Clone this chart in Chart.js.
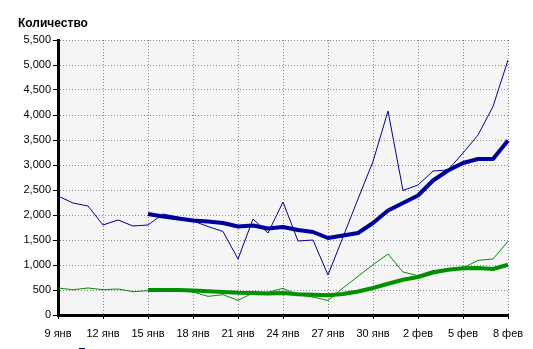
<!DOCTYPE html>
<html><head><meta charset="utf-8">
<script src="https://cdn.jsdelivr.net/npm/chart.js@4/dist/chart.umd.min.js"></script>
<style>html,body{margin:0;padding:0;background:#fff;overflow:hidden}</style>
</head><body>
<canvas id="c" width="533" height="349" style="display:block;width:533px;height:349px"></canvas>
<script>
const days = ['9 янв','10 янв','11 янв','12 янв','13 янв','14 янв','15 янв','16 янв','17 янв','18 янв','19 янв','20 янв','21 янв','22 янв','23 янв','24 янв','25 янв','26 янв','27 янв','28 янв','29 янв','30 янв','31 янв','1 фев','2 фев','3 фев','4 фев','5 фев','6 фев','7 фев','8 фев'];
const blueDaily = [2380,2240,2180,1800,1900,1780,1800,2020,1960,1880,1770,1670,1120,1920,1640,2260,1480,1500,800,1560,2320,3070,4080,2490,2600,2880,2900,3240,3600,4170,5100];
const blueAvg = [null,null,null,null,null,null,2020,1970,1930,1890,1870,1840,1770,1790,1730,1760,1700,1660,1540,1590,1640,1840,2090,2240,2390,2690,2890,3040,3120,3120,3490];
const greenDaily = [540,506,540,506,520,466,486,493,486,460,373,406,293,440,453,533,400,360,290,540,773,1006,1220,860,786,890,906,940,1093,1120,1473];
const greenAvg = [null,null,null,null,null,null,500,500,500,490,475,460,445,440,430,440,415,405,395,420,470,540,625,705,760,850,905,935,940,920,1005];
const yTicks = [0,500,1000,1500,2000,2500,3000,3500,4000,4500,5000,5500];
const titleText = 'Количество';
const legendText = 'Продажи';

const BLUE = '#00009c', GREEN = '#009000', FONT = "'Liberation Sans', Arial, sans-serif";

const bg = {
  id: 'bg',
  beforeDraw(chart) {
    const {ctx, chartArea: a} = chart;
    ctx.save(); ctx.fillStyle = '#f5f5f5';
    ctx.fillRect(a.left, a.top, a.right - a.left, a.bottom - a.top);
    ctx.restore();
  },
  afterDraw(chart) {
    const ctx = chart.ctx;
    ctx.save();
    ctx.fillStyle = '#000';
    ctx.font = 'bold 12px ' + FONT;
    ctx.textBaseline = 'alphabetic';
    ctx.fillText(titleText, 18, 27);
    ctx.fillStyle = BLUE;
    ctx.font = '11px ' + FONT;
    ctx.fillText(legendText, 78, 356);
    ctx.restore();
  }
};

const every3 = (on, off) => c => (c.index % 3 === 0 ? on : off);

new Chart(document.getElementById('c'), {
  type: 'line',
  data: {
    labels: days,
    datasets: [
      {data: blueAvg, borderColor: BLUE, borderWidth: 4, order: 1},
      {data: greenAvg, borderColor: GREEN, borderWidth: 4, order: 2},
      {data: blueDaily, borderColor: BLUE, borderWidth: 1, order: 3},
      {data: greenDaily, borderColor: GREEN, borderWidth: 1, order: 4}
    ]
  },
  options: {
    responsive: false,
    animation: false,
    devicePixelRatio: 1,
    layout: {padding: {top: 40, right: 25, left: 0, bottom: 0}},
    elements: {point: {radius: 0}, line: {tension: 0, borderJoinStyle: 'round', borderCapStyle: 'butt'}},
    plugins: {legend: {display: false}, tooltip: {enabled: false}},
    scales: {
      x: {
        type: 'category',
        offset: false,
        afterFit: s => { s.height = 34; },
        grid: {color: every3('#8a8a8a', 'rgba(0,0,0,0)'), tickColor: every3('#000', 'rgba(0,0,0,0)'), tickLength: 4, lineWidth: 1},
        border: {color: '#000', width: 3, dash: [1, 2]},
        ticks: {autoSkip: false, maxRotation: 0, minRotation: 0, padding: 8, color: '#000', font: {family: FONT, size: 11},
          callback: (v, i) => (i % 3 === 0 ? days[i] : '')}
      },
      y: {
        min: 0, max: 5500,
        afterFit: s => { s.width = 58; },
        afterBuildTicks: s => { s.ticks = yTicks.map(v => ({value: v})); },
        grid: {color: '#8a8a8a', tickColor: '#000', tickLength: 5, lineWidth: 1},
        border: {color: '#000', width: 3, dash: [1, 2]},
        ticks: {padding: 2, color: '#000', font: {family: FONT, size: 11},
          callback: v => Number(v).toLocaleString('en-US')}
      }
    }
  },
  plugins: [bg]
});
</script>
</body></html>
